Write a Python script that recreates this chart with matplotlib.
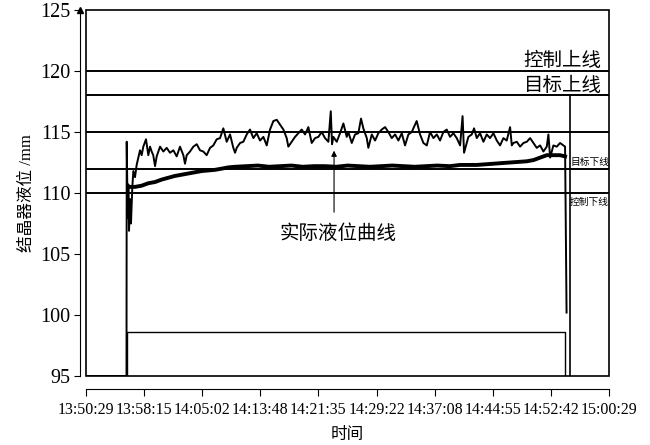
import numpy as np
import matplotlib
matplotlib.use('Agg')
import matplotlib.pyplot as plt
from matplotlib.patches import Rectangle
from matplotlib.transforms import ScaledTranslation

plt.rcParams['font.family'] = ['Liberation Serif', 'Noto Sans CJK SC']

# minutes after 13:50:29
tick_labels = ['13:50:29', '13:58:15', '14:05:02', '14:13:48', '14:21:35',
               '14:29:22', '14:37:08', '14:44:55', '14:52:42', '15:00:29']
tick_pos = np.linspace(0, 70, len(tick_labels))

limits = [120, 118, 115, 112, 110]

t_up = [0, 5.42, 5.45, 5.58, 5.67, 5.76, 5.89, 6.02, 6.2, 6.34,
        6.56, 6.78, 7.0, 7.23, 7.45, 7.67, 8.03, 8.34, 8.57, 8.79,
        9.0, 9.24, 9.46, 9.91, 10.35, 10.8, 11.24, 11.69, 12.14, 12.58,
        13.03, 13.25, 13.48, 13.92, 14.37, 14.82, 15.26, 15.7, 16.15, 16.6,
        17.04, 17.49, 17.94, 18.38, 18.83, 19.28, 19.72, 19.95, 20.17, 20.62,
        21.06, 21.51, 21.95, 22.4, 22.85, 23.29, 23.74, 24.19, 24.63, 25.08,
        25.53, 25.97, 26.42, 26.86, 27.08, 27.53, 27.98, 28.42, 28.87, 29.32,
        29.76, 30.21, 30.66, 31.1, 31.55, 31.99, 32.44, 32.76, 32.93, 33.11,
        33.56, 34.0, 34.45, 34.9, 35.11, 35.57, 36.01, 36.45, 36.81, 37.12,
        37.58, 37.79, 38.25, 38.69, 39.13, 39.58, 40.03, 40.47, 40.92, 41.37,
        41.81, 42.26, 42.7, 43.15, 43.6, 44.26, 44.71, 45.16, 45.61, 46.05,
        46.5, 46.95, 47.39, 47.83, 48.28, 48.73, 49.17, 49.62, 50.07, 50.4,
        50.6, 51.18, 51.63, 51.94, 52.3, 52.74, 53.19, 53.64, 54.08, 54.53,
        54.98, 55.42, 55.87, 56.31, 56.76, 56.99, 57.21, 57.66, 58.1, 58.55,
        59.0, 59.44, 59.88, 60.33, 60.78, 61.22, 61.67, 61.89, 62.12, 62.56,
        63.01, 63.45, 63.9, 64.12, 64.32]
v_up = [95.0, 95.0, 114.2, 108.0, 110.7, 106.9, 109.5, 107.5, 110.5, 111.8,
        111.3, 112.3, 112.9, 113.5, 113.1, 113.8, 114.4, 113.1, 113.8, 113.4,
        113.1, 112.2, 113.0, 113.8, 113.4, 113.7, 113.3, 113.5, 113.0, 113.8,
        113.1, 112.4, 113.1, 113.4, 113.8, 114.0, 113.5, 113.4, 113.1, 113.7,
        113.9, 114.4, 114.5, 115.3, 114.2, 114.8, 113.7, 113.3, 113.7, 114.1,
        114.2, 114.8, 115.2, 114.5, 114.9, 114.3, 114.6, 113.9, 115.2, 115.9,
        116.0, 115.6, 115.2, 114.5, 113.8, 114.2, 114.6, 114.9, 115.2, 114.8,
        115.4, 114.1, 114.5, 114.6, 115.0, 114.5, 114.2, 116.7, 114.0, 114.6,
        114.2, 114.9, 115.7, 114.6, 115.0, 114.1, 114.8, 114.9, 116.1, 115.3,
        114.5, 113.7, 114.8, 114.3, 114.9, 115.2, 115.4, 115.0, 114.5, 114.8,
        114.3, 114.9, 113.9, 114.8, 115.0, 115.9, 114.8, 114.1, 113.9, 115.0,
        114.5, 114.8, 114.3, 115.0, 115.2, 114.6, 114.9, 114.5, 113.9, 116.3,
        113.3, 114.6, 114.8, 115.3, 114.5, 114.9, 114.2, 114.8, 114.5, 114.9,
        114.3, 113.9, 114.5, 114.3, 115.4, 113.9, 114.1, 114.2, 113.8, 114.1,
        114.2, 114.5, 114.1, 113.7, 113.9, 113.4, 113.8, 114.8, 112.9, 113.9,
        113.8, 114.1, 113.9, 113.8, 100.2]

t_low = [5.67, 6.56, 7.45, 8.34, 9.24, 10.13, 11.02, 11.91, 12.81, 13.7,
         14.59, 15.49, 16.4, 17.27, 18.2, 19.05, 19.95, 21.5, 23.0, 24.5,
         26.0, 27.5, 29.0, 30.5, 32.0, 33.5, 35.0, 36.5, 38.0, 39.5,
         41.0, 42.5, 44.0, 45.5, 47.0, 48.7, 50.07, 51.2, 52.3, 53.4,
         54.53, 55.6, 56.76, 57.9, 59.0, 59.9, 60.78, 61.67, 62.56, 63.45,
         64.12]
v_low = [110.5, 110.5, 110.6, 110.8, 110.9, 111.1, 111.25, 111.4, 111.5, 111.6,
         111.7, 111.8, 111.85, 111.9, 112.0, 112.1, 112.15, 112.2, 112.25, 112.15,
         112.2, 112.25, 112.15, 112.2, 112.2, 112.15, 112.25, 112.2, 112.15, 112.2,
         112.25, 112.2, 112.15, 112.2, 112.25, 112.2, 112.3, 112.3, 112.3, 112.35,
         112.4, 112.45, 112.5, 112.55, 112.6, 112.7, 112.9, 113.1, 113.1, 113.1,
         113.0]

t_box = [5.5, 5.5, 64.1, 64.1]
v_box = [95, 98.6, 98.6, 95]
t_end = [64.73, 64.73]
v_end = [95, 118]

fig = plt.figure(figsize=(6.5, 4.45), dpi=100)
ax = fig.add_axes([86 / 650, 1 - 376 / 445, 523 / 650, 366 / 445])

for y in limits:
    ax.axhline(y, color='k', lw=1.4)

ax.plot(t_box, v_box, color='k', lw=1.0)
ax.plot(t_end, v_end, color='k', lw=1.2)
ax.plot(t_low, v_low, color='k', lw=2.8)
ax.plot(t_up, v_up, color='k', lw=1.4)

ax.text(69.0, 120.85, '控制上线', ha='right', va='center', fontsize=14)
ax.text(69.0, 118.8, '目标上线', ha='right', va='center', fontsize=14)
ax.text(64.8, 112.5, '目标下线', ha='left', va='center', fontsize=7)
ax.text(64.7, 109.2, '控制下线', ha='left', va='center', fontsize=7)

ax.text(33.7, 106.7, '实际液位曲线', ha='center', va='center', fontsize=14)
ax.annotate('', xy=(33.2, 113.7), xytext=(33.2, 108.2),
            arrowprops=dict(arrowstyle='-|>', lw=0.8, color='k', mutation_scale=8))

ax.set_xlim(0, 70)
ax.set_ylim(95, 125)
ax.set_xticks(tick_pos)
ax.set_xticklabels(tick_labels)
ax.set_yticks(np.arange(95, 126, 5))
ax.tick_params(axis='y', labelsize=14.5, length=4, pad=3, direction='out')
ax.tick_params(axis='x', labelsize=11.5, length=5, pad=5, direction='out')

ax.spines['top'].set_visible(False)
ax.spines['right'].set_visible(False)
ax.spines['left'].set_position(('outward', 4.3))
ax.spines['bottom'].set_position(('outward', 9))
ax.add_patch(Rectangle((0, 0), 1, 1, transform=ax.transAxes, fill=False,
                       lw=1.2, color='k', clip_on=False))

# arrow at top of y axis
off = ScaledTranslation(-6 / 100, 0, fig.dpi_scale_trans)
ax.plot([0], [1.0], marker='^', color='k', ms=4, transform=ax.transAxes + off,
        clip_on=False)

ax.set_xlabel('时间', fontsize=12, labelpad=6)
ax.set_ylabel('结晶器液位 /mm', fontsize=12, labelpad=4)

fig.savefig('out.png', dpi=100)
